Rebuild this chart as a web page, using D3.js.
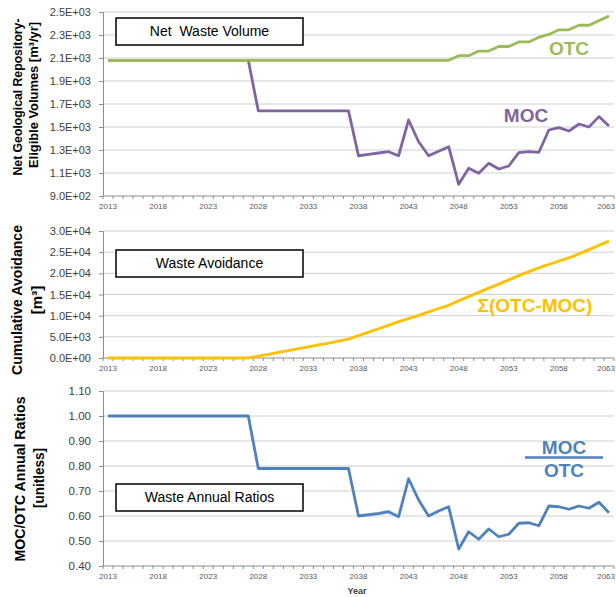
<!DOCTYPE html>
<html>
<head>
<meta charset="utf-8">
<script src="https://cdn.jsdelivr.net/npm/d3@7"></script>
<style>
  body { margin: 0; background: #fff; }
  text { font-family: "Liberation Sans", Arial, sans-serif; }
</style>
</head>
<body>
<div id="chart"></div>
<script>
// categories
const years = [2013, 2014, 2015, 2016, 2017, 2018, 2019, 2020, 2021, 2022, 2023, 2024, 2025, 2026, 2027,
    2028, 2029, 2030, 2031, 2032, 2033, 2034, 2035, 2036, 2037, 2038, 2039, 2040, 2041, 2042, 2043,
    2044, 2045, 2046, 2047, 2048, 2049, 2050, 2051, 2052, 2053, 2054, 2055, 2056, 2057, 2058, 2059,
    2060, 2061, 2062, 2063];
const yearLabels = [2013, 2018, 2023, 2028, 2033, 2038, 2043, 2048, 2053, 2058, 2063];

// net waste volume [m3/yr]
const otcVolume = [2080, 2080, 2080, 2080, 2080, 2080, 2080, 2080, 2080, 2080, 2080, 2080, 2080, 2080, 2080,
    2080, 2080, 2080, 2080, 2080, 2080, 2080, 2080, 2080, 2080, 2080, 2080, 2080, 2080, 2080, 2080,
    2080, 2080, 2080, 2080, 2120, 2120, 2160, 2160, 2200, 2200, 2240, 2240, 2280, 2305, 2345, 2345,
    2385, 2385, 2425, 2465];
const mocVolume = [2080, 2080, 2080, 2080, 2080, 2080, 2080, 2080, 2080, 2080, 2080, 2080, 2080, 2080, 2080,
    1640, 1640, 1640, 1640, 1640, 1640, 1640, 1640, 1640, 1640, 1250, 1262, 1274, 1285, 1250, 1561,
    1372, 1250, 1290, 1329, 1002, 1141, 1097, 1184, 1135, 1161, 1277, 1285, 1280, 1474, 1494, 1465,
    1526, 1500, 1590, 1509];

// cumulative avoidance [m3]
const avoidance = [0, 0, 0, 0, 0, 0, 0, 0, 0, 0, 0, 0, 0, 0, 0,
    440, 880, 1320, 1760, 2200, 2640, 3080, 3520, 3960, 4450, 5280, 6100, 6900, 7720, 8580, 9300,
    10050, 10900, 11700, 12450, 13500, 14500, 15500, 16500, 17450, 18450, 19450, 20400, 21300, 22100, 22900, 23650,
    24600, 25600, 26600, 27600];

// MOC/OTC annual ratio
const ratio = [1, 1, 1, 1, 1, 1, 1, 1, 1, 1, 1, 1, 1, 1, 1,
    0.79, 0.79, 0.79, 0.79, 0.79, 0.79, 0.79, 0.79, 0.79, 0.79, 0.60, 0.605, 0.61, 0.617, 0.597, 0.749,
    0.664, 0.60, 0.62, 0.637, 0.468, 0.537, 0.507, 0.548, 0.517, 0.527, 0.571, 0.573, 0.561, 0.64, 0.637, 0.627,
    0.64, 0.631, 0.655, 0.613];

// tick values
const volumeTicks = [900, 1100, 1300, 1500, 1700, 1900, 2100, 2300, 2500];
const avoidTicks = [0, 5000, 10000, 15000, 20000, 25000, 30000];
const ratioTicks = [0.4, 0.5, 0.6, 0.7, 0.8, 0.9, 1.0, 1.1];

const width = 616, height = 597;
const left = 103, right = 614;

const svg = d3.select("#chart").append("svg")
    .attr("width", width)
    .attr("height", height);

const x = d3.scaleBand().domain(years).range([left, right]).paddingInner(0).paddingOuter(0);
const cx = d => x(d) + x.bandwidth() / 2;

const sci = v => {
    const [m, e] = d3.format(".1e")(v).split("e");
    const n = +e;
    return m + "E" + (n < 0 ? "-" : "+") + String(Math.abs(n)).padStart(2, "0");
};

function panel(cfg) {
    const y = d3.scaleLinear().domain(cfg.domain).range([cfg.bottom, cfg.top]);
    const g = svg.append("g");

    // gridlines
    g.selectAll(".grid")
        .data(cfg.ticks.slice(1))
        .enter().append("line")
        .attr("x1", left).attr("x2", right)
        .attr("y1", d => y(d)).attr("y2", d => y(d))
        .style("stroke", "#d0d0d0")
        .style("stroke-width", 1);

    // y axis
    const yAxis = g.append("g")
        .attr("transform", `translate(${left},0)`)
        .call(d3.axisLeft(y).tickValues(cfg.ticks).tickSize(4).tickPadding(8).tickFormat(cfg.format));
    yAxis.select(".domain").style("stroke", "#8c8c8c");
    yAxis.selectAll(".tick line").style("stroke", "#8c8c8c");
    yAxis.selectAll("text")
        .style("font-size", cfg.tickFont + "px")
        .style("fill", "#404040");

    // x axis
    g.append("line")
        .attr("x1", left).attr("x2", right)
        .attr("y1", cfg.bottom).attr("y2", cfg.bottom)
        .style("stroke", "#8c8c8c");
    g.selectAll(".minor")
        .data(years.concat([null]))
        .enter().append("line")
        .attr("x1", d => d === null ? right : x(d))
        .attr("x2", d => d === null ? right : x(d))
        .attr("y1", cfg.bottom).attr("y2", cfg.bottom + 3)
        .style("stroke", "#8c8c8c");
    const last = yearLabels[yearLabels.length - 1];
    g.selectAll(".ylab")
        .data(yearLabels)
        .enter().append("text")
        .attr("x", d => d === last ? width - 1 : cx(d))
        .attr("y", cfg.bottom + 13)
        .attr("text-anchor", d => d === last ? "end" : "middle")
        .style("font-size", "8px")
        .style("fill", "#595959")
        .text(d => d);

    // axis title
    cfg.title.forEach(t => {
        const tx = g.append("text")
            .attr("transform", `translate(${t.x},${t.y}) rotate(-90)`)
            .attr("text-anchor", "middle")
            .attr("dy", "0.35em")
            .style("font-size", t.size + "px")
            .style("font-weight", "bold")
            .style("fill", "#000")
            .text(t.text);
        if (t.len) tx.attr("textLength", t.len).attr("lengthAdjust", "spacingAndGlyphs");
    });

    // title box
    g.append("rect")
        .attr("x", 116).attr("y", cfg.boxY)
        .attr("width", 187).attr("height", 27)
        .style("fill", "#fff")
        .style("stroke", "#000")
        .style("stroke-width", 1.5);
    g.append("text")
        .attr("x", 209.5).attr("y", cfg.boxY + 13.5)
        .attr("dy", "0.35em")
        .attr("text-anchor", "middle")
        .style("font-size", "14px")
        .style("fill", "#000")
        .attr("xml:space", "preserve")
        .text(cfg.boxText);

    // series
    const line = d3.line().x(d => cx(d.year)).y(d => y(d.value));
    cfg.series.forEach(s => {
        g.append("path")
            .datum(years.map((yr, i) => ({ year: yr, value: s.values[i] })))
            .attr("fill", "none")
            .attr("stroke", s.color)
            .attr("stroke-width", 2.8)
            .attr("stroke-linejoin", "round")
            .attr("d", line);
    });
    return g;
}

const green = "#9BBB59", purple = "#8064A2", orange = "#FFC000", blue = "#4F81BD";

const p1 = panel({
    domain: [900, 2500], top: 12, bottom: 196, ticks: volumeTicks, format: sci, tickFont: 11,
    title: [
        { text: "Net Geological Repository-", x: 17, y: 97, size: 13, len: 157 },
        { text: "Eligible Volumes [m³/yr]", x: 33, y: 95, size: 13, len: 146 }
    ],
    boxY: 18, boxText: "Net  Waste Volume",
    series: [{ values: mocVolume, color: purple }, { values: otcVolume, color: green }]
});
p1.append("text").attr("x", 569).attr("y", 55).attr("text-anchor", "middle")
    .style("font-size", "19px").style("font-weight", "bold").style("fill", green).text("OTC");
p1.append("text").attr("x", 526).attr("y", 122).attr("text-anchor", "middle")
    .style("font-size", "19px").style("font-weight", "bold").style("fill", purple).text("MOC");

const p2 = panel({
    domain: [0, 30000], top: 231, bottom: 358, ticks: avoidTicks, format: sci, tickFont: 11,
    title: [
        { text: "Cumulative Avoidance", x: 17, y: 300, size: 15, len: 150 },
        { text: "[m³]", x: 37, y: 300, size: 15 }
    ],
    boxY: 250, boxText: "Waste Avoidance",
    series: [{ values: avoidance, color: orange }]
});
p2.append("text").attr("x", 535).attr("y", 312).attr("text-anchor", "middle")
    .style("font-size", "19px").style("font-weight", "bold").style("fill", orange).text("Σ(OTC-MOC)");

const p3 = panel({
    domain: [0.4, 1.1], top: 391, bottom: 566, ticks: ratioTicks, format: d3.format(".2f"), tickFont: 11.5,
    title: [
        { text: "MOC/OTC Annual Ratios", x: 20, y: 479, size: 15, len: 165 },
        { text: "[unitless]", x: 39, y: 478, size: 15, len: 60 }
    ],
    boxY: 484, boxText: "Waste Annual Ratios",
    series: [{ values: ratio, color: blue }]
});
p3.append("text").attr("x", 564).attr("y", 454).attr("text-anchor", "middle")
    .style("font-size", "19px").style("font-weight", "bold").style("fill", blue).text("MOC");
p3.append("line").attr("x1", 525).attr("x2", 603).attr("y1", 457.5).attr("y2", 457.5)
    .style("stroke", blue).style("stroke-width", 2.5);
p3.append("text").attr("x", 564).attr("y", 477).attr("text-anchor", "middle")
    .style("font-size", "19px").style("font-weight", "bold").style("fill", blue).text("OTC");
p3.append("text").attr("x", 357).attr("y", 594).attr("text-anchor", "middle")
    .style("font-size", "9px").style("font-weight", "bold").style("fill", "#404040").text("Year");
</script>
</body>
</html>
